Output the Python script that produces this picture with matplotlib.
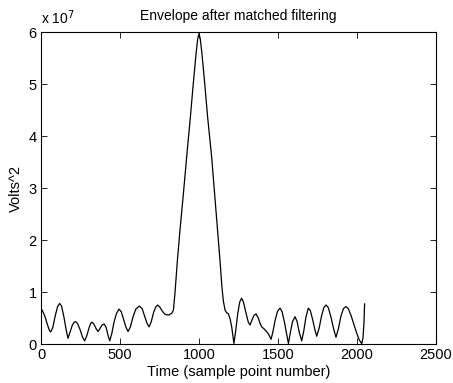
"""
Envelope after matched filtering - recreated plot
"""
import numpy as np
import matplotlib
matplotlib.use('Agg')
import matplotlib.pyplot as plt

# sample point number
sample = [0, 12, 25, 40, 52, 61, 75, 90, 105, 118, 130, 145, 160, 171, 183,
          198, 210, 219, 232, 248, 262, 276, 290, 305, 315, 323, 335, 348,
          361, 372, 385, 399, 412, 425, 435, 448, 462, 478, 494, 508, 522,
          538, 551, 566, 582, 600, 622, 640, 658, 672, 684, 697, 712, 726,
          738, 752, 768, 782, 795, 810, 827, 838, 848, 863, 880, 900, 922,
          945, 965, 982, 992, 1000, 1008, 1018, 1035, 1055, 1080, 1105, 1133,
          1145, 1154, 1165, 1175, 1186, 1197, 1207, 1215, 1221, 1232, 1245,
          1258, 1270, 1282, 1297, 1312, 1323, 1335, 1348, 1361, 1375, 1387,
          1397, 1412, 1428, 1442, 1456, 1468, 1482, 1497, 1513, 1526, 1540,
          1553, 1566, 1578, 1592, 1608, 1621, 1634, 1650, 1663, 1677, 1692,
          1705, 1720, 1733, 1745, 1760, 1775, 1790, 1804, 1818, 1835, 1852,
          1867, 1882, 1898, 1914, 1930, 1945, 1962, 1980, 1998, 2014, 2030,
          2038, 2044, 2048]

# envelope (Volts^2), in units of 1e6
envelope_e6 = [6.9, 6.2, 5.3, 3.8, 2.7, 2.3, 3.2, 5.4, 7.2, 7.8, 7.3, 5.2, 2.6,
               1.1, 2.2, 3.6, 4.2, 4.3, 3.9, 2.7, 1.4, 0.6, 1.6, 3.2, 4.0, 4.2,
               3.8, 3.0, 2.4, 2.9, 3.6, 3.85, 3.2, 1.6, 0.6, 2.0, 4.2, 5.9, 6.7,
               6.2, 4.8, 3.2, 2.4, 3.3, 5.2, 6.7, 7.3, 6.8, 5.2, 3.9, 3.3, 4.2,
               6.0, 7.1, 7.5, 7.1, 6.3, 5.8, 5.6, 5.6, 5.9, 6.5, 9.8, 16, 22,
               28.5, 36, 43.5, 50.5, 56, 58.7, 59.7, 58.7, 56, 50.5, 43.5, 36,
               26.5, 16, 11, 8.3, 6.5, 6.0, 5.8, 4.8, 3.3, 1.5, 0.1, 2.5, 5.8,
               8.1, 8.8, 8.0, 6.0, 4.2, 3.65, 4.6, 5.5, 5.8, 5.0, 3.9, 3.3, 2.9,
               2.4, 1.8, 0.9, 2.4, 4.6, 6.3, 6.9, 6.2, 4.3, 2.2, 0.1, 2.2, 4.3,
               5.25, 4.3, 2.3, 0.6, 2.5, 5.2, 6.9, 6.4, 4.6, 2.8, 1.5, 3.0, 5.3,
               7.0, 7.5, 7.0, 5.2, 2.9, 1.3, 2.9, 5.3, 6.8, 7.2, 6.8, 5.5, 3.8,
               2.1, 0.8, 0.05, 1.2, 4.0, 7.7]

x_ticks = [0, 500, 1000, 1500, 2000, 2500]
y_ticks = [0, 1, 2, 3, 4, 5, 6]


def main():
    plt.rcParams['font.family'] = ['Liberation Sans', 'DejaVu Sans']
    plt.rcParams['font.size'] = 10

    fig = plt.figure(figsize=(4.53, 3.83), dpi=100)
    ax = fig.add_axes([41 / 453, 39 / 383, 395 / 453, 312 / 383])

    # plot in units of 1e7 like the MATLAB figure
    y = np.array(envelope_e6) / 10.0
    ax.plot(sample, y, color='black', linewidth=0.9)

    ax.set_xlim(0, 2500)
    ax.set_ylim(0, 6)
    ax.set_xticks(x_ticks)
    ax.set_yticks(y_ticks)
    ax.tick_params(direction='in', length=4, top=True, right=True,
                   labelsize=10.5, pad=3, width=0.6)
    for spine in ax.spines.values():
        spine.set_linewidth(0.8)

    ax.set_title('Envelope after matched filtering', fontsize=10, pad=9)
    ax.set_xlabel('Time (sample point number)', fontsize=10.5, labelpad=2)
    ax.set_ylabel('Volts^2', fontsize=10.5, labelpad=4)
    ax.text(0.0, 1.015, r'x 10$^{7}$', transform=ax.transAxes,
            fontsize=10, ha='left', va='bottom')

    fig.savefig('out.png', dpi=100)


if __name__ == "__main__":
    main()
